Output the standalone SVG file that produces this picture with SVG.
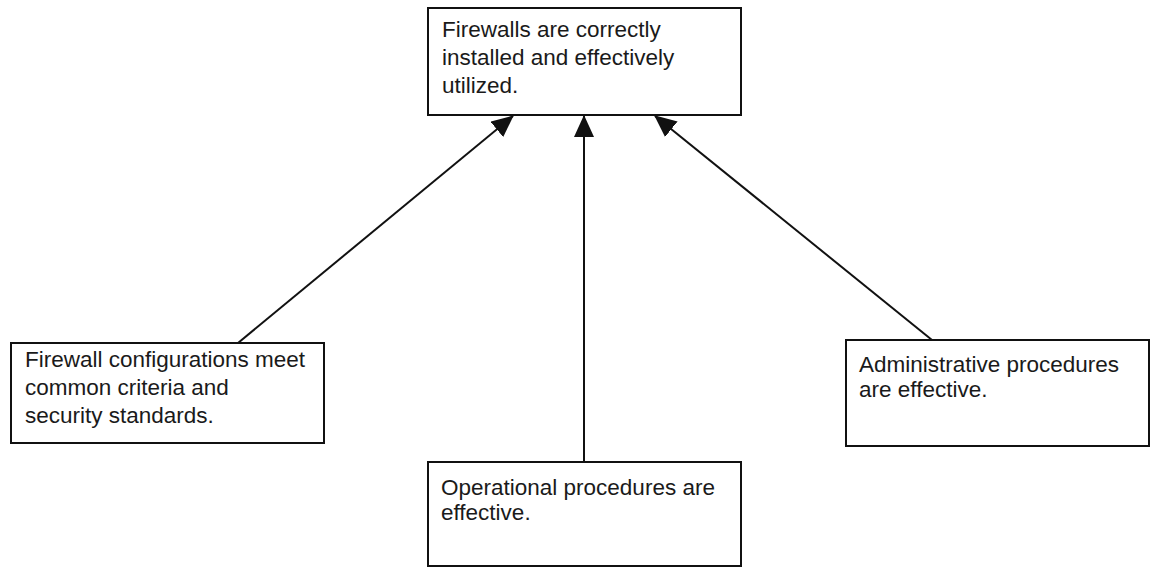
<svg xmlns="http://www.w3.org/2000/svg" width="1151" height="567" viewBox="0 0 1151 567">
<defs>
<style>
.box{fill:#fff;stroke:#111;stroke-width:2}
.t{font-family:"Liberation Sans",Arial,sans-serif;font-size:22.5px;fill:#1a1a1a}
.c{stroke:#111;stroke-width:2;fill:none}
</style>
<marker id="ah" markerWidth="22" markerHeight="20" refX="21" refY="10" orient="auto" markerUnits="userSpaceOnUse">
<path d="M0,0 L22,10 L0,20 Z" fill="#111"/>
</marker>
</defs>
<rect width="1151" height="567" fill="#fff"/>
<g id="top">
<rect class="box" x="428" y="8" width="313" height="107"/>
<text class="t" x="442" y="37">Firewalls are correctly</text>
<text class="t" x="442" y="65">installed and effectively</text>
<text class="t" x="442" y="93">utilized.</text>
</g>
<g id="left">
<rect class="box" x="11" y="343" width="313" height="100"/>
<text class="t" x="25" y="367">Firewall configurations meet</text>
<text class="t" x="25" y="395">common criteria and</text>
<text class="t" x="25" y="423">security standards.</text>
</g>
<g id="right">
<rect class="box" x="846" y="340" width="303" height="106"/>
<text class="t" x="859" y="372">Administrative procedures</text>
<text class="t" x="859" y="397">are effective.</text>
</g>
<g id="bottom">
<rect class="box" x="428" y="462" width="313" height="104"/>
<text class="t" x="441" y="495">Operational procedures are</text>
<text class="t" x="441" y="520">effective.</text>
</g>
<g id="connectors">
<line class="c" x1="238" y1="343" x2="513" y2="116" marker-end="url(#ah)"/>
<line class="c" x1="584" y1="462" x2="584" y2="116" marker-end="url(#ah)"/>
<line class="c" x1="932" y1="340" x2="655" y2="116" marker-end="url(#ah)"/>
</g>
</svg>
